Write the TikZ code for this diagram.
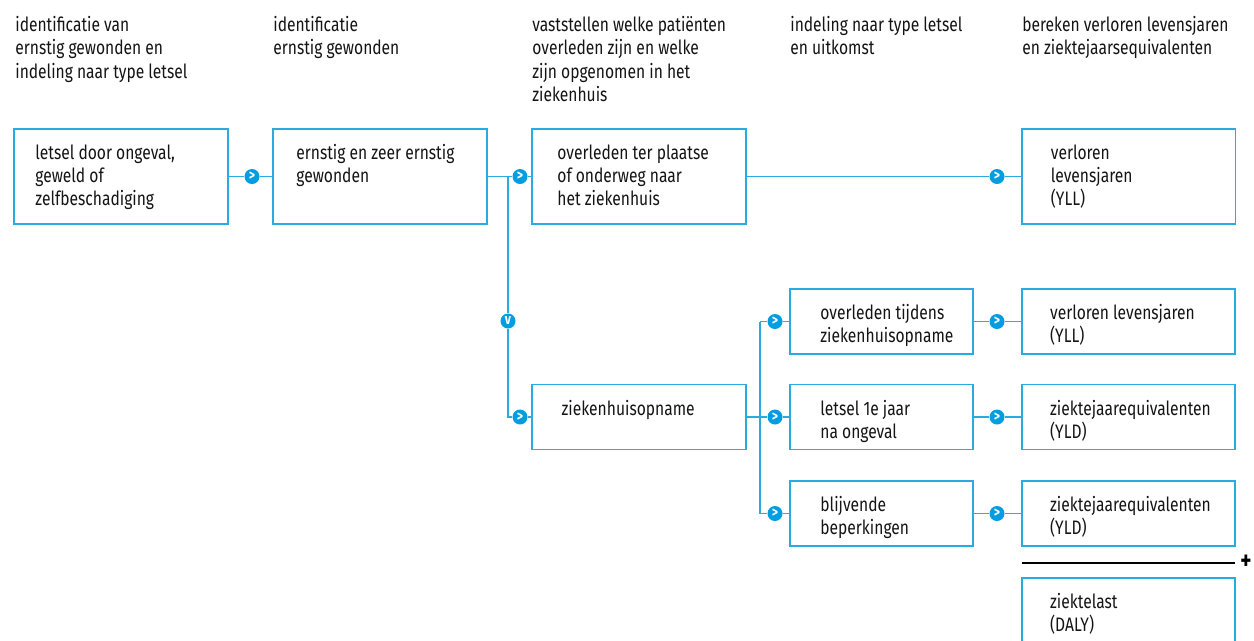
\documentclass[tikz,border=0pt]{standalone}
\usepackage{fontspec}
\setmainfont{Fira Sans}[FakeStretch=0.8]
\definecolor{lineblue}{RGB}{41,171,226}
\definecolor{dotblue}{RGB}{0,158,224}
\definecolor{txt}{RGB}{20,20,20}
\begin{document}
\begin{tikzpicture}[x=0.02cm,y=-0.02cm,
 box/.style={draw=lineblue, line width=1.1pt, rectangle, inner sep=0},
 wbox/.style={box, minimum width=4.28cm, minimum height=1.9cm},
 sbox/.style={box, minimum width=4.27cm, minimum height=1.3cm},
 mbox/.style={box, minimum width=3.66cm, minimum height=1.3cm},
 lbl/.style={anchor=north west, inner sep=0, align=left, text=txt, font=\fontsize{11.1}{13.3}\selectfont},
 conn/.style={draw=lineblue, line width=1.1pt},
 dot/.style={circle, fill=dotblue, minimum size=0.3cm, inner sep=0, text=white, font=\fontsize{8.5}{8.5}\selectfont\bfseries},
]
\clip (0,0) rectangle (1254,640);
% headers
\node[lbl] (h1) at (15,16) {identificatie van\\ernstig gewonden en\\indeling naar type letsel};
\node[lbl] (h2) at (273,16) {identificatie\\ernstig gewonden};
\node[lbl] (h3) at (532,16) {vaststellen welke patiënten\\overleden zijn en welke\\zijn opgenomen in het\\ziekenhuis};
\node[lbl] (h4) at (790,16) {indeling naar type letsel\\en uitkomst};
\node[lbl] (h5) at (1022,16) {bereken verloren levensjaren\\en ziektejaarsequivalenten};
% boxes
\node[wbox] (b1) at (121,176.5) {};
\node[wbox] (b2) at (380,176.5) {};
\node[wbox] (b3) at (639,176.5) {};
\node[wbox] (b4) at (1128.5,176.5) {};
\node[sbox] (zh) at (639,417) {};
\node[mbox] (m1) at (881.5,321.5) {};
\node[mbox] (m2) at (881.5,417) {};
\node[mbox] (m3) at (881.5,513.5) {};
\node[sbox] (r1) at (1128.5,321.5) {};
\node[sbox] (r2) at (1128.5,417) {};
\node[sbox] (r3) at (1128.5,513.5) {};
\node[box, minimum width=4.27cm, minimum height=1.7cm] (dl) at (1128.5,620.5) {};
% texts
\node[lbl] (t1) at ([shift={(22,16)}]b1.north west) {letsel door ongeval,\\geweld of\\zelfbeschadiging};
\node[lbl] (t2) at ([shift={(24,16)}]b2.north west) {ernstig en zeer ernstig\\gewonden};
\node[lbl] (t3) at ([shift={(26,16)}]b3.north west) {overleden ter plaatse\\of onderweg naar\\het ziekenhuis};
\node[lbl] (t4) at ([shift={(30,16)}]b4.north west) {verloren\\levensjaren\\(YLL)};
\node[lbl] (tz) at ([shift={(30,16)}]zh.north west) {ziekenhuisopname};
\node[lbl] (tm1) at ([shift={(31,16)}]m1.north west) {overleden tijdens\\ziekenhuisopname};
\node[lbl] (tm2) at ([shift={(31,16)}]m2.north west) {letsel 1e jaar\\na ongeval};
\node[lbl] (tm3) at ([shift={(31,16)}]m3.north west) {blijvende\\beperkingen};
\node[lbl] (tr1) at ([shift={(29,16)}]r1.north west) {verloren levensjaren\\(YLL)};
\node[lbl] (tr2) at ([shift={(29,16)}]r2.north west) {ziektejaarequivalenten\\(YLD)};
\node[lbl] (tr3) at ([shift={(29,16)}]r3.north west) {ziektejaarequivalenten\\(YLD)};
\node[lbl] (tdl) at ([shift={(29,16)}]dl.north west) {ziektelast\\(DALY)};
% connector dots
\node[dot] (d1) at (252,176.5) {>};
\node[dot] (d2) at (520,176.5) {>};
\node[dot] (d3) at (997,176.5) {>};
\node[dot] (dv) at (508,321) {v};
\node[dot] (dz) at (520,417) {>};
\node[dot] (d4) at (775,321.5) {>};
\node[dot] (d5) at (775,417) {>};
\node[dot] (d6) at (775,513.5) {>};
\node[dot] (e1) at (997,321.5) {>};
\node[dot] (e2) at (997,417) {>};
\node[dot] (e3) at (997,513.5) {>};
\coordinate (j1) at (508,176.5);
\coordinate (j1b) at (508,417);
\coordinate (j2a) at (760,321.5);
\coordinate (j2c) at (760,513.5);
% connectors
\draw[conn] (b1.east) -- (d1) -- (b2.west);
\draw[conn] (b2.east) -- (d2) -- (b3.west);
\draw[conn] (b3.east) -- (d3) -- (b4.west);
\draw[conn] (j1) -- (dv) -- (j1b) -- (dz) -- (zh.west);
\draw[conn] (zh.east) -- (d5) -- (m2.west);
\draw[conn] (j2a) -- (j2c);
\draw[conn] (j2a) -- (d4) -- (m1.west);
\draw[conn] (j2c) -- (d6) -- (m3.west);
\draw[conn] (m1.east) -- (e1) -- (r1.west);
\draw[conn] (m2.east) -- (e2) -- (r2.west);
\draw[conn] (m3.east) -- (e3) -- (r3.west);
% sum line
\coordinate (s1) at (1022,563);
\coordinate (s2) at (1235,563);
\draw[black, line width=1.6pt] (s1) -- (s2);
\node[inner sep=0, font=\fontsize{15}{15}\selectfont\bfseries] (plus) at (1246,562) {+};
\end{tikzpicture}
\end{document}
